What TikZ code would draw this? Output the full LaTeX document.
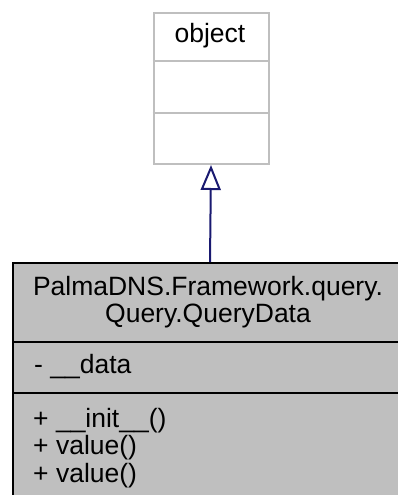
\documentclass[tikz,border=0pt]{standalone}
\usepackage{fontspec}
\setmainfont{Liberation Sans}
\usetikzlibrary{arrows.meta}
\definecolor{edgegray}{HTML}{BFBFBF}
\definecolor{classfill}{HTML}{BFBFBF}
\definecolor{inherit}{HTML}{191970}
\newcommand{\umlfont}{\fontsize{26.5}{27.5}\selectfont}
\tikzset{
  umltext/.style={font=\umlfont, inner sep=0pt, anchor=base west},
  umltitle/.style={font=\umlfont, inner sep=0pt, anchor=base},
  basebox/.style={draw=edgegray, fill=white, line width=2pt, inner sep=0pt,
    minimum width=115pt, minimum height=151pt, anchor=north west},
  derivedbox/.style={draw=black, fill=classfill, line width=2pt, inner sep=0pt,
    minimum width=398pt, minimum height=260pt, anchor=north west},
  inheritarrow/.style={draw=inherit, line width=2pt,
    -{Triangle[open, width=20pt, length=25pt, line width=2pt]}}
}
\begin{document}
\begin{tikzpicture}[x=1pt,y=-1pt]
  \useasboundingbox (0,0) rectangle (398,495);
  \clip (0,0) rectangle (398,495);

  % base class: object
  \node[basebox] (object) at (152.5,12) {};
  \draw[edgegray, line width=2pt] (152.5,61) -- (267.5,61);
  \draw[edgegray, line width=2pt] (152.5,113) -- (267.5,113);
  \node[umltitle] (objname) at (210,42.5) {object};

  % derived class
  \node[derivedbox] (query) at (12,262) {};
  \draw[black, line width=2pt] (12,342) -- (410,342);
  \draw[black, line width=2pt] (12,393) -- (410,393);
  \node[umltitle] (title1) at (208,295) {PalmaDNS.Framework.query.};
  \node[umltitle] (title2) at (208,322.5) {Query.QueryData};
  \node[umltext] (attr) at (34,373) {- \_\_data};
  \node[umltext] (m1) at (33,427) {+ \_\_init\_\_()};
  \node[umltext] (m2) at (33,454.5) {+ value()};
  \node[umltext] (m3) at (33,482) {+ value()};

  % inheritance
  \draw[inheritarrow] (query.north -| objname) -- (object.south);
\end{tikzpicture}
\end{document}
